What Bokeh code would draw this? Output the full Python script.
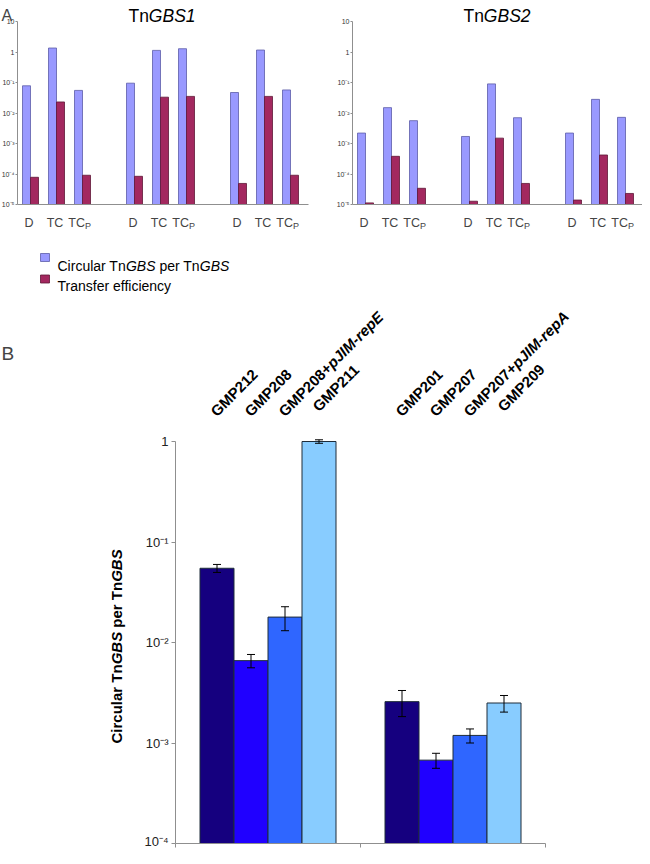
import math
from bokeh.plotting import figure
from bokeh.models import (Range1d, FixedTicker, CustomJSTickFormatter, Label,
                          Whisker, TeeHead, ColumnDataSource)
from bokeh.layouts import column, row
from bokeh.embed import file_html
from bokeh.resources import INLINE
from bokeh.core.properties import value

# ---------------- data ----------------
conditions = ["D", "TC", "TCp"]
replicates = [1, 2, 3]
tngbs1_circular = [0.078, 1.35, 0.055, 0.095, 1.13, 1.28, 0.047, 1.16, 0.057]
tngbs1_transfer = [7.8e-5, 0.023, 9.1e-5, 8.4e-5, 0.033, 0.035, 4.9e-5, 0.035, 9.1e-5]
tngbs2_circular = [2.2e-3, 0.015, 5.6e-3, 1.7e-3, 0.09, 7.0e-3, 2.2e-3, 0.028, 7.2e-3]
tngbs2_transfer = [1.13e-5, 3.8e-4, 3.4e-5, 1.28e-5, 1.5e-3, 4.9e-5, 1.4e-5, 4.2e-4, 2.3e-5]
a_tick_values = [1e-5, 1e-4, 1e-3, 1e-2, 1e-1, 1, 10]
a_tick_labels = ["10⁻⁵", "10⁻⁴", "10⁻³", "10⁻²", "10⁻¹", "1", "10"]

b_strains_tngbs1 = ["GMP212", "GMP208", "GMP208+pJIM-repE", "GMP211"]
b_values_tngbs1 = [0.0548, 6.6e-3, 0.0179, 1.0]
b_errors_tngbs1 = [0.005, 1.0e-3, 0.0048, 0.04]
b_strains_tngbs2 = ["GMP201", "GMP207", "GMP207+pJIM-repA", "GMP209"]
b_values_tngbs2 = [2.58e-3, 6.75e-4, 1.19e-3, 2.5e-3]
b_errors_tngbs2 = [0.75e-3, 1.15e-4, 0.19e-3, 0.47e-3]
b_tick_values = [1e-4, 1e-3, 1e-2, 1e-1, 1]
b_tick_labels = ["10⁻⁴", "10⁻³", "10⁻²", "10⁻¹", "1"]

# ---------------- styles ----------------
FONT = "Liberation Sans"
A_BLUE, A_BLUE_LINE = "#9999FF", "#5C5CA8"
A_RED, A_RED_LINE = "#A3285F", "#5E1636"
B_COLORS = ["#15007F", "#2000FF", "#2F66FF", "#88CCFF"]
B_LINE = "#1E2C3A"
AXIS_GRAY = "#8F8F8F"

REG = {' ': 278, '+': 584, '-': 333, 'A': 667, 'B': 667, 'C': 722, 'D': 722, 'E': 667,
       'G': 778, 'I': 278, 'J': 500, 'M': 833, 'P': 667, 'S': 667, 'T': 611, 'a': 556,
       'c': 500, 'e': 556, 'f': 278, 'i': 222, 'l': 222, 'n': 556, 'p': 556, 'r': 333,
       's': 500, 'u': 556, 'y': 500}
BOLD = {' ': 278, '+': 584, '-': 333, 'A': 722, 'B': 722, 'C': 722, 'D': 722, 'E': 667,
        'G': 778, 'I': 278, 'J': 556, 'M': 833, 'P': 667, 'S': 667, 'T': 611, 'a': 556,
        'c': 556, 'e': 556, 'f': 333, 'i': 278, 'l': 278, 'n': 611, 'p': 611, 'r': 389,
        's': 556, 'u': 611, 'y': 556}


def text_w(s, size, bold=False):
    t = BOLD if bold else REG
    return sum(t.get(ch, 556) for ch in s) * size / 1000.0


def add_rich(p, x, y, pieces, size, angle=0.0, x_offset=0.0, y_offset=0.0,
             align="left", color="#000000"):
    widths = [text_w(t, size, "bold" in st) for t, st in pieces]
    total = sum(widths)
    pos = {"left": 0.0, "center": -total / 2.0, "right": -total}[align]
    ca, sa = math.cos(angle), math.sin(angle)
    for (t, st), w in zip(pieces, widths):
        stripped = t.lstrip(" ")
        lead = text_w(t[:len(t) - len(stripped)], size, "bold" in st)
        pp = pos + lead
        p.add_layout(Label(x=x, y=y, text=stripped, angle=angle,
                           x_offset=x_offset + pp * ca, y_offset=y_offset + pp * sa,
                           text_font=FONT, text_font_style=st,
                           text_font_size=f"{size}px", text_color=color,
                           text_align="left", text_baseline="alphabetic"))
        pos += w


def log_formatter(tvals, tlabels):
    return CustomJSTickFormatter(args=dict(tvals=tvals, tlabels=tlabels), code="""
        let best = 0, bd = Infinity;
        for (let i = 0; i < tvals.length; i++) {
            const d = Math.abs(Math.log10(tick) - Math.log10(tvals[i]));
            if (d < bd) { bd = d; best = i; }
        }
        return tlabels[best];
    """)


def blank_formatter():
    return CustomJSTickFormatter(code="return '';")


def bare_figure(width, height, x_range, y_range, y_log=False):
    p = figure(width=width, height=height, y_axis_type="log" if y_log else "linear",
               x_range=x_range, y_range=y_range, output_backend="svg",
               toolbar_location=None, min_border=0, min_border_left=0, min_border_right=0,
               min_border_top=0, min_border_bottom=0)
    p.outline_line_color = None
    p.grid.visible = False
    return p


# ---------------- panel A ----------------
SLOT_PX = 26.0
A_H, A_TOP, A_FRAME_H = 240, 21, 183
A_DEC = A_FRAME_H / 6.0


def make_panel_a(circ, trans, suffix, width, border_left, frame_w, letter=None):
    lo_exp = math.log10(a_tick_values[0])
    hi_exp = math.log10(a_tick_values[-1])
    y_rng = Range1d(10 ** (lo_exp - (A_H - A_TOP - A_FRAME_H) / A_DEC),
                    10 ** (hi_exp + A_TOP / A_DEC))
    x_rng = Range1d(-0.5 - border_left / SLOT_PX, -0.5 + (width - border_left) / SLOT_PX)
    p = bare_figure(width, A_H, x_rng, y_rng, y_log=True)

    xs = [4 * g + c for g in range(len(replicates)) for c in range(len(conditions))]
    bw = 8.0 / SLOT_PX
    src = ColumnDataSource(dict(xb=[x - bw / 2 for x in xs], xr=[x + bw / 2 for x in xs],
                                circ=circ, trans=trans))
    p.vbar(x="xb", top="circ", bottom=a_tick_values[0], width=bw, source=src,
           fill_color=A_BLUE, line_color=A_BLUE_LINE, line_width=0.8)
    p.vbar(x="xr", top="trans", bottom=a_tick_values[0], width=bw, source=src,
           fill_color=A_RED, line_color=A_RED_LINE, line_width=0.8)

    ya = p.yaxis[0]
    ya.fixed_location = -0.5
    ya.bounds = (a_tick_values[0], a_tick_values[-1])
    ya.ticker = FixedTicker(ticks=a_tick_values)
    ya.formatter = log_formatter(a_tick_values, a_tick_labels)
    ya.axis_line_color = AXIS_GRAY
    ya.major_tick_line_color = AXIS_GRAY
    ya.major_tick_out = 2
    ya.major_tick_in = 0
    ya.minor_tick_line_color = None
    ya.major_label_text_font = FONT
    ya.major_label_text_font_size = "7px"
    ya.major_label_text_color = "#333333"
    ya.major_label_standoff = 1

    xa = p.xaxis[0]
    xa.fixed_location = a_tick_values[0]
    xa.bounds = (-0.5, -0.5 + frame_w / SLOT_PX)
    xa.ticker = FixedTicker(ticks=[])
    xa.formatter = blank_formatter()
    xa.axis_line_color = AXIS_GRAY
    xa.major_tick_line_color = None
    xa.minor_tick_line_color = None

    # category labels under the bars
    y0 = a_tick_values[0]
    for x, c in zip(xs, conditions * len(replicates)):
        if c == "TCp":
            p.add_layout(Label(x=x, y=y0, text="TC", text_align="right", x_offset=2.5,
                               y_offset=-18, text_font=FONT, text_font_size="12.5px",
                               text_baseline="alphabetic"))
            p.add_layout(Label(x=x, y=y0, text="P", text_align="left", x_offset=2.5,
                               y_offset=-21, text_font=FONT, text_font_size="9px",
                               text_baseline="alphabetic"))
        else:
            p.add_layout(Label(x=x, y=y0, text=c, text_align="center", x_offset=-1.5,
                               y_offset=-18, text_font=FONT, text_font_size="12.5px",
                               text_baseline="alphabetic"))

    # title
    add_rich(p, -0.5, a_tick_values[-1], [("Tn", "normal"), ("GBS" + suffix, "italic")],
             17.5, x_offset=144.5, y_offset=6, align="center")
    if letter:
        p.add_layout(Label(x=-0.5, y=a_tick_values[-1], text=letter,
                           x_offset=-border_left + 1, y_offset=6.5, text_font=FONT,
                           text_font_size="16px", text_baseline="alphabetic"))
    return p


pA1 = make_panel_a(tngbs1_circular, tngbs1_transfer, "1", 322, 17, 291, letter="A")
pA2 = make_panel_a(tngbs2_circular, tngbs2_transfer, "2", 320, 30, 290)

# ---------------- legend strip ----------------
LEG_W, LEG_H = 642, 60
pL = bare_figure(LEG_W, LEG_H, Range1d(0, LEG_W), Range1d(LEG_H, 0))
pL.axis.visible = False
pL.rect(x=[44.5, 44.5], y=[17, 38.5], width=9, height=8,
        fill_color=[A_BLUE, A_RED], line_color=[A_BLUE_LINE, A_RED_LINE], line_width=0.8)
leg_pieces = [("Circular Tn", "normal"), ("GBS", "italic"), (" per Tn", "normal"), ("GBS", "italic")]
pos = 57.0
lx, lt, ls = [], [], []
for t, st in leg_pieces:
    s = t.lstrip(" ")
    lx.append(pos + text_w(t[:len(t) - len(s)], 14))
    lt.append(s)
    ls.append(st)
    pos += text_w(t, 14)
pL.text(x=lx, y=[25] * len(lx), text=lt, text_font=value(FONT), text_font_style=ls,
        text_font_size=value("14px"), text_baseline=value("alphabetic"), text_color="#000000")
pL.text(x=[57], y=[45], text=["Transfer efficiency"], text_font=value(FONT),
        text_font_size=value("14px"), text_baseline=value("alphabetic"), text_color="#000000")

# ---------------- panel B ----------------
B_W, B_H = 642, 548
B_TOP, B_FRAME_H = 141, 402
B_LEFT, B_FRAME_W = 175, 370
B_DEC = B_FRAME_H / 4.0
B_UNIT = B_FRAME_W / 2.0
b_lo = math.log10(b_tick_values[0])
b_hi = math.log10(b_tick_values[-1])
pB = bare_figure(B_W, B_H,
                 Range1d(-B_LEFT / B_UNIT, (B_W - B_LEFT) / B_UNIT),
                 Range1d(10 ** (b_lo - (B_H - B_TOP - B_FRAME_H) / B_DEC),
                         10 ** (b_hi + B_TOP / B_DEC)), y_log=True)

groups = [(b_strains_tngbs1, b_values_tngbs1, b_errors_tngbs1),
          (b_strains_tngbs2, b_values_tngbs2, b_errors_tngbs2)]
bw = 34.0 / B_UNIT
bx, btop, bup, blo, bcol, bnames = [], [], [], [], [], []
for gi, (names, vals, errs) in enumerate(groups):
    for k, (n, v, e) in enumerate(zip(names, vals, errs)):
        bx.append(gi + 0.5 + (k - 1.5) * bw)
        btop.append(v)
        bup.append(v + e)
        blo.append(v - e)
        bcol.append(B_COLORS[k])
        bnames.append(n)
srcB = ColumnDataSource(dict(x=bx, top=btop, upper=bup, lower=blo, color=bcol))
pB.vbar(x="x", top="top", bottom=b_tick_values[0], width=bw, source=srcB,
        fill_color="color", line_color=B_LINE, line_width=1)
pB.add_layout(Whisker(base="x", upper="upper", lower="lower", source=srcB, level="overlay",
                      line_color="black", line_width=1,
                      upper_head=TeeHead(size=8, line_color="black", line_width=1),
                      lower_head=TeeHead(size=8, line_color="black", line_width=1)))

yb = pB.yaxis[0]
yb.fixed_location = 0
yb.bounds = (b_tick_values[0], b_tick_values[-1])
yb.ticker = FixedTicker(ticks=b_tick_values)
yb.formatter = log_formatter(b_tick_values, b_tick_labels)
yb.axis_line_color = AXIS_GRAY
yb.major_tick_line_color = AXIS_GRAY
yb.major_tick_out = 4
yb.major_tick_in = 0
yb.minor_tick_line_color = None
yb.major_label_text_font = FONT
yb.major_label_text_font_size = "13px"
yb.major_label_text_color = "#222222"
yb.major_label_standoff = 3

xb = pB.xaxis[0]
xb.fixed_location = b_tick_values[0]
xb.bounds = (0, 2)
xb.ticker = FixedTicker(ticks=[0, 1, 2])
xb.formatter = blank_formatter()
xb.axis_line_color = AXIS_GRAY
xb.major_tick_line_color = AXIS_GRAY
xb.major_tick_out = 4
xb.major_tick_in = 0
xb.minor_tick_line_color = None

# rotated strain labels
for i, (x, n) in enumerate(zip(bx, bnames)):
    lift = 5 if i % 4 == 3 else 0
    if "+" in n:
        base, plasmid = n.split("+", 1)
        pieces = [(base + "+", "bold"), (plasmid, "bold italic")]
    else:
        pieces = [(n, "bold")]
    add_rich(pB, x, b_tick_values[-1], pieces, 15, angle=math.pi / 4,
             x_offset=-4, y_offset=28 + lift)

# y-axis title (rotated)
add_rich(pB, 0, b_tick_values[0],
         [("Circular Tn", "bold"), ("GBS", "bold italic"), (" per Tn", "bold"), ("GBS", "bold italic")],
         15, angle=math.pi / 2, x_offset=-59, y_offset=100)

pB.add_layout(Label(x=0, y=b_tick_values[-1], text="B", x_offset=-B_LEFT + 1, y_offset=88,
                    text_font=FONT, text_font_size="19px", text_baseline="alphabetic"))

layout = column(row(pA1, pA2), pL, pB)
open("out.html", "w").write(file_html(layout, INLINE))
